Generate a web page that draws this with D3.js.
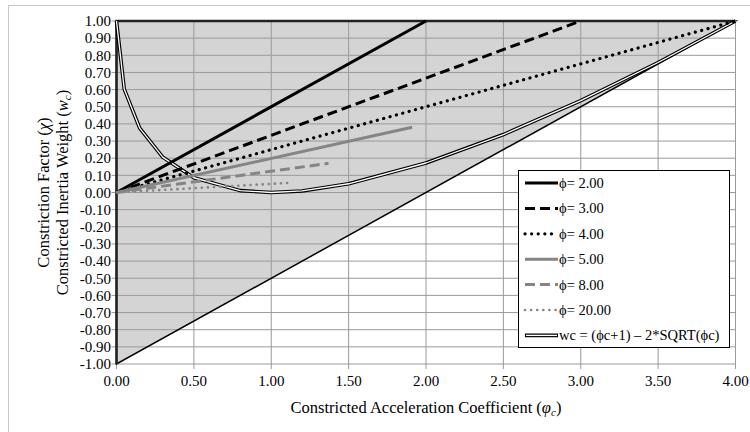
<!DOCTYPE html>
<html>
<head>
<meta charset="utf-8">
<script src="https://cdn.jsdelivr.net/npm/d3@7"></script>
<style>
  body { margin: 0; padding: 0; overflow: hidden; background: #fff; }
  text { font-family: "Liberation Serif", "Times New Roman", serif; fill: #000; }
</style>
</head>
<body>
<script>

    const width = 750, height = 432;

    // phi values and end points of each constricted line (phi_c, w_c)
    const phis = [2, 3, 4, 5, 8, 20];
    const phiLabels = ["\u03d5= 2.00", "\u03d5= 3.00", "\u03d5= 4.00", "\u03d5= 5.00", "\u03d5= 8.00", "\u03d5= 20.00"];
    const endX = [2.00, 3.00, 4.00, 1.91, 1.37, 1.11];
    const endY = [1.00, 1.00, 1.00, 0.38, 0.17, 0.056];

    // wc = (phic+1) - 2*sqrt(phic) curve
    const curveX = [0, 0.05, 0.15, 0.3, 0.5, 0.8, 1.0, 1.2, 1.5, 2.0, 2.5, 3.0, 3.5, 4.0];
    const curveY = [1.00, 0.603, 0.375, 0.205, 0.086, 0.011, 0.00, 0.009, 0.051, 0.172, 0.338, 0.536, 0.758, 1.00];

    // shaded region corners
    const regionX = [0, 0, 4];
    const regionY = [-1, 1, 1];

    const xTicks = d3.range(0, 8.5).map(i => i * 0.5);
    const yTicks = d3.range(-10, 11).map(i => i / 10);

    const x = d3.scaleLinear().domain([0, 4]).range([116.5, 735.5]);
    const y = d3.scaleLinear().domain([-1, 1]).range([364, 21]);

    const svg = d3.select("body").append("svg")
      .attr("width", width)
      .attr("height", height);

    // chart border
    svg.append("rect")
      .attr("x", 8.5).attr("y", 5.5)
      .attr("width", 800).attr("height", 500)
      .attr("fill", "none").attr("stroke", "#c6c6c6");

    const line = d3.line().x(d => x(d[0])).y(d => y(d[1]));

    // gray triangle
    svg.append("path")
      .datum(d3.zip(regionX, regionY))
      .attr("d", d => line(d) + "Z")
      .attr("fill", "#d4d4d4");

    // gridlines (with small outward ticks)
    svg.append("g").selectAll("line")
      .data(yTicks)
      .enter().append("line")
      .attr("x1", x(0) - 5).attr("x2", x(4))
      .attr("y1", d => y(d)).attr("y2", d => y(d))
      .attr("stroke", "#9a9a9a").attr("stroke-width", 1);

    svg.append("g").selectAll("line")
      .data(xTicks)
      .enter().append("line")
      .attr("x1", d => x(d)).attr("x2", d => x(d))
      .attr("y1", y(1)).attr("y2", y(-1) + 5)
      .attr("stroke", "#9a9a9a").attr("stroke-width", 1);

    // triangle outline
    svg.append("path")
      .datum(d3.zip(regionX, regionY))
      .attr("d", d => line(d) + "Z")
      .attr("fill", "none")
      .attr("stroke", "#000").attr("stroke-width", 1.5);
    svg.append("path")
      .datum([[0, -1], [0, 1], [4, 1]])
      .attr("d", line)
      .attr("fill", "none")
      .attr("stroke", "#222").attr("stroke-width", 2.5);

    const styles = [
      {color: "#000", dash: null, w: 3},
      {color: "#000", dash: "10,5", w: 3},
      {color: "#000", dash: "0.1,6.5", w: 3.2, round: true},
      {color: "#858585", dash: null, w: 3},
      {color: "#858585", dash: "10,5", w: 3},
      {color: "#858585", dash: "0.1,6", w: 2.6, round: true}
    ];

    // the wc curve: black with white core
    const curve = d3.zip(curveX, curveY);
    svg.append("path").datum(curve).attr("d", line)
      .attr("fill", "none").attr("stroke", "#000").attr("stroke-width", 3.6)
      .attr("stroke-linejoin", "round");
    svg.append("path").datum(curve).attr("d", line)
      .attr("fill", "none").attr("stroke", "#fff").attr("stroke-width", 1.3)
      .attr("stroke-linejoin", "round");

    // phi lines
    phis.forEach((p, i) => {
      const s = styles[i];
      svg.append("path")
        .datum([[0, 0], [endX[i], endY[i]]])
        .attr("d", line)
        .attr("fill", "none")
        .attr("stroke", s.color)
        .attr("stroke-width", s.w)
        .attr("stroke-dasharray", s.dash)
        .attr("stroke-linecap", s.round ? "round" : "butt");
    });

    // tick labels
    svg.append("g").selectAll("text")
      .data(yTicks)
      .enter().append("text")
      .attr("x", 111).attr("y", d => y(d))
      .attr("dy", "0.35em")
      .attr("text-anchor", "end")
      .style("font-size", "15px")
      .text(d => d.toFixed(2));

    svg.append("g").selectAll("text")
      .data(xTicks)
      .enter().append("text")
      .attr("x", d => x(d)).attr("y", 386)
      .attr("text-anchor", "middle")
      .style("font-size", "15px")
      .text(d => d.toFixed(2));

    // axis titles
    const xt = svg.append("text")
      .attr("x", (x(0) + x(4)) / 2).attr("y", 413)
      .attr("text-anchor", "middle")
      .style("font-size", "16.5px");
    xt.append("tspan").text("Constricted Acceleration Coefficient (");
    xt.append("tspan").style("font-style", "italic").text("\u03c6");
    xt.append("tspan").style("font-style", "italic").style("font-size", "11px").attr("dy", 3).text("c");
    xt.append("tspan").attr("dy", -3).text(")");

    const midY = (y(1) + y(-1)) / 2;
    const yt1 = svg.append("text")
      .attr("transform", `translate(49,${midY}) rotate(-90)`)
      .attr("text-anchor", "middle")
      .style("font-size", "16.5px");
    yt1.append("tspan").text("Constriction Factor (");
    yt1.append("tspan").style("font-style", "italic").text("\u03c7");
    yt1.append("tspan").text(")");

    const yt2 = svg.append("text")
      .attr("transform", `translate(68,${midY}) rotate(-90)`)
      .attr("text-anchor", "middle")
      .style("font-size", "16.5px");
    yt2.append("tspan").text("Constricted Inertia Weight (");
    yt2.append("tspan").style("font-style", "italic").text("w");
    yt2.append("tspan").style("font-style", "italic").style("font-size", "11px").attr("dy", 3).text("c");
    yt2.append("tspan").attr("dy", -3).text(")");

    // legend
    const lg = svg.append("g");
    lg.append("rect")
      .attr("x", 518.5).attr("y", 170.5)
      .attr("width", 211).attr("height", 177)
      .attr("fill", "#fff").attr("stroke", "#000");

    const rowY = i => 183 + i * 25.4;
    phis.forEach((p, i) => {
      const s = styles[i];
      lg.append("line")
        .attr("x1", 525).attr("x2", 558)
        .attr("y1", rowY(i)).attr("y2", rowY(i))
        .attr("stroke", s.color)
        .attr("stroke-width", s.w)
        .attr("stroke-dasharray", s.dash)
        .attr("stroke-linecap", s.round ? "round" : "butt");
      lg.append("text")
        .attr("x", 559).attr("y", rowY(i)).attr("dy", "0.35em")
        .style("font-size", "14.5px")
        .text(phiLabels[i]);
    });
    const wy = rowY(6);
    lg.append("line").attr("x1", 525).attr("x2", 558).attr("y1", wy).attr("y2", wy)
      .attr("stroke", "#000").attr("stroke-width", 3.6);
    lg.append("line").attr("x1", 526).attr("x2", 557).attr("y1", wy).attr("y2", wy)
      .attr("stroke", "#fff").attr("stroke-width", 1.3);
    lg.append("text")
      .attr("x", 559).attr("y", wy).attr("dy", "0.35em")
      .style("font-size", "14.5px")
      .text("wc = (\u03d5c+1) \u2013 2*SQRT(\u03d5c)");

</script>
</body>
</html>
